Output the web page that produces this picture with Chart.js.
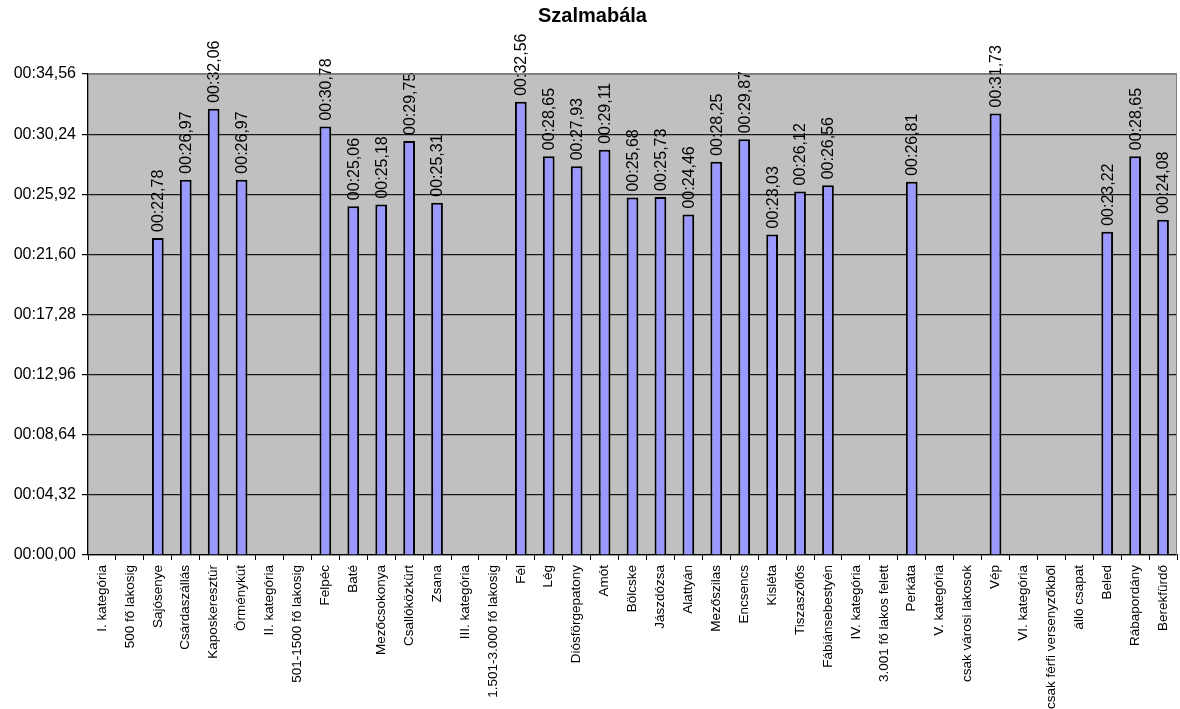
<!DOCTYPE html>
<html>
<head>
<meta charset="utf-8">
<script src="https://cdn.jsdelivr.net/npm/chart.js@4.4.1/dist/chart.umd.min.js"></script>
<style>
  html, body { margin: 0; padding: 0; background: #fff; }
  #wrap { width: 1180px; height: 709px; }
</style>
</head>
<body>
<div id="wrap"><canvas id="chart"></canvas></div>
<script>
// ===== Dados =====
const categories = [
  "I. kategória", "500 fő lakosig", "Sajósenye", "Csárdaszállás", "Kaposkeresztúr",
  "Örménykút", "II. kategória", "501-1500 fő lakosig", "Felpéc", "Baté",
  "Mezőcsokonya", "Csallóközkürt", "Zsana", "III. kategória", "1.501-3.000 fő lakosig",
  "Fél", "Lég", "Diósförgepatony", "Amót", "Bölcske",
  "Jászdózsa", "Alattyán", "Mezőszilas", "Encsencs", "Kisléta",
  "Tiszaszőlős", "Fábiánsebestyén", "IV. kategória", "3.001 fő lakos felett", "Perkáta",
  "V. kategória", "csak városi lakosok", "Vép", "VI. kategória", "csak férfi versenyzőkből",
  "álló csapat", "Beled", "Rábapordány", "Berekfürdő"
];

// idő másodpercben
const times = [
  null, null, 22.78, 26.97, 32.06,
  26.97, null, null, 30.78, 25.06,
  25.18, 29.75, 25.31, null, null,
  32.56, 28.65, 27.93, 29.11, 25.68,
  25.73, 24.46, 28.25, 29.87, 23.03,
  26.12, 26.56, null, null, 26.81,
  null, null, 31.73, null, null,
  null, 23.22, 28.65, 24.08
];

const yTicks = [0, 4.32, 8.64, 12.96, 17.28, 21.6, 25.92, 30.24, 34.56];

const FONT = "Arial, 'Liberation Sans', sans-serif";

// 22.78 -> "00:22,78"
function fmtTime(v) {
  const cs = Math.round(v * 100);
  const min = Math.floor(cs / 6000);
  const sec = Math.floor((cs % 6000) / 100);
  const c = cs % 100;
  const p = (n) => String(n).padStart(2, "0");
  return p(min) + ":" + p(sec) + "," + p(c);
}

// fundo cinza da área do gráfico
const plotBg = {
  id: "plotBg",
  beforeDraw(chart) {
    const { ctx, chartArea: a } = chart;
    ctx.save();
    ctx.fillStyle = "#C0C0C0";
    ctx.fillRect(a.left, a.top, a.right - a.left, a.bottom - a.top);
    ctx.restore();
  },
  afterDraw(chart) {
    const { ctx, chartArea: a } = chart;
    ctx.save();
    ctx.strokeStyle = "#808080";
    ctx.lineWidth = 1;
    ctx.beginPath();
    ctx.moveTo(a.left, a.top + 0.5);
    ctx.lineTo(a.right - 0.5, a.top + 0.5);
    ctx.lineTo(a.right - 0.5, a.bottom);
    ctx.stroke();
    ctx.restore();
  }
};

// rótulos de valor girados acima das barras
const valueLabels = {
  id: "valueLabels",
  afterDatasetsDraw(chart) {
    const { ctx } = chart;
    const meta = chart.getDatasetMeta(0);
    ctx.save();
    ctx.fillStyle = "#000";
    ctx.font = "16px " + FONT;
    ctx.textAlign = "left";
    ctx.textBaseline = "middle";
    meta.data.forEach((bar, i) => {
      const v = times[i];
      if (v == null) return;
      ctx.save();
      ctx.translate(bar.x, bar.y - 6);
      ctx.rotate(-Math.PI / 2);
      ctx.fillText(fmtTime(v), 0, 1);
      ctx.restore();
    });
    ctx.restore();
  }
};

const chart = new Chart(document.getElementById("chart"), {
  type: "bar",
  data: {
    labels: categories,
    datasets: [{
      data: times,
      backgroundColor: "#9999FF",
      borderColor: "#000",
      borderWidth: 2,
      barPercentage: 0.42,
      categoryPercentage: 1
    }]
  },
  options: {
    responsive: true,
    maintainAspectRatio: false,
    animation: false,
    layout: { padding: { left: 8, right: 3, top: 0, bottom: 0 } },
    plugins: {
      legend: { display: false },
      tooltip: { enabled: false },
      title: {
        display: true,
        text: "Szalmabála",
        color: "#000",
        font: { family: FONT, size: 20, weight: "bold" },
        padding: { top: 4, bottom: 46 }
      }
    },
    scales: {
      x: {
        offset: true,
        grid: {
          offset: true,
          drawOnChartArea: false,
          drawTicks: true,
          tickLength: 5,
          tickColor: "#000"
        },
        border: { color: "#000", width: 1.3 },
        ticks: {
          color: "#000",
          font: { family: FONT, size: 13.5 },
          minRotation: 90,
          maxRotation: 90,
          autoSkip: false,
          padding: 5
        },
        afterFit(axis) {
          axis.height = 154;
          axis.paddingLeft = 0;
          axis.paddingRight = 0;
        }
      },
      y: {
        min: 0,
        max: 34.56,
        afterBuildTicks(axis) {
          axis.ticks = yTicks.map((v) => ({ value: v }));
        },
        grid: {
          color: (c) => (c.tick && c.tick.value === 34.56 ? "#808080" : "#1a1a1a"),
          lineWidth: 1.2,
          tickLength: 6,
          tickColor: "#000"
        },
        border: { color: "#000", width: 1.3 },
        ticks: {
          color: "#000",
          font: { family: FONT, size: 16 },
          padding: 6,
          callback: (v) => fmtTime(v)
        },
        afterFit(axis) { axis.width = 80; }
      }
    }
  },
  plugins: [plotBg, valueLabels]
});
</script>
</body>
</html>
